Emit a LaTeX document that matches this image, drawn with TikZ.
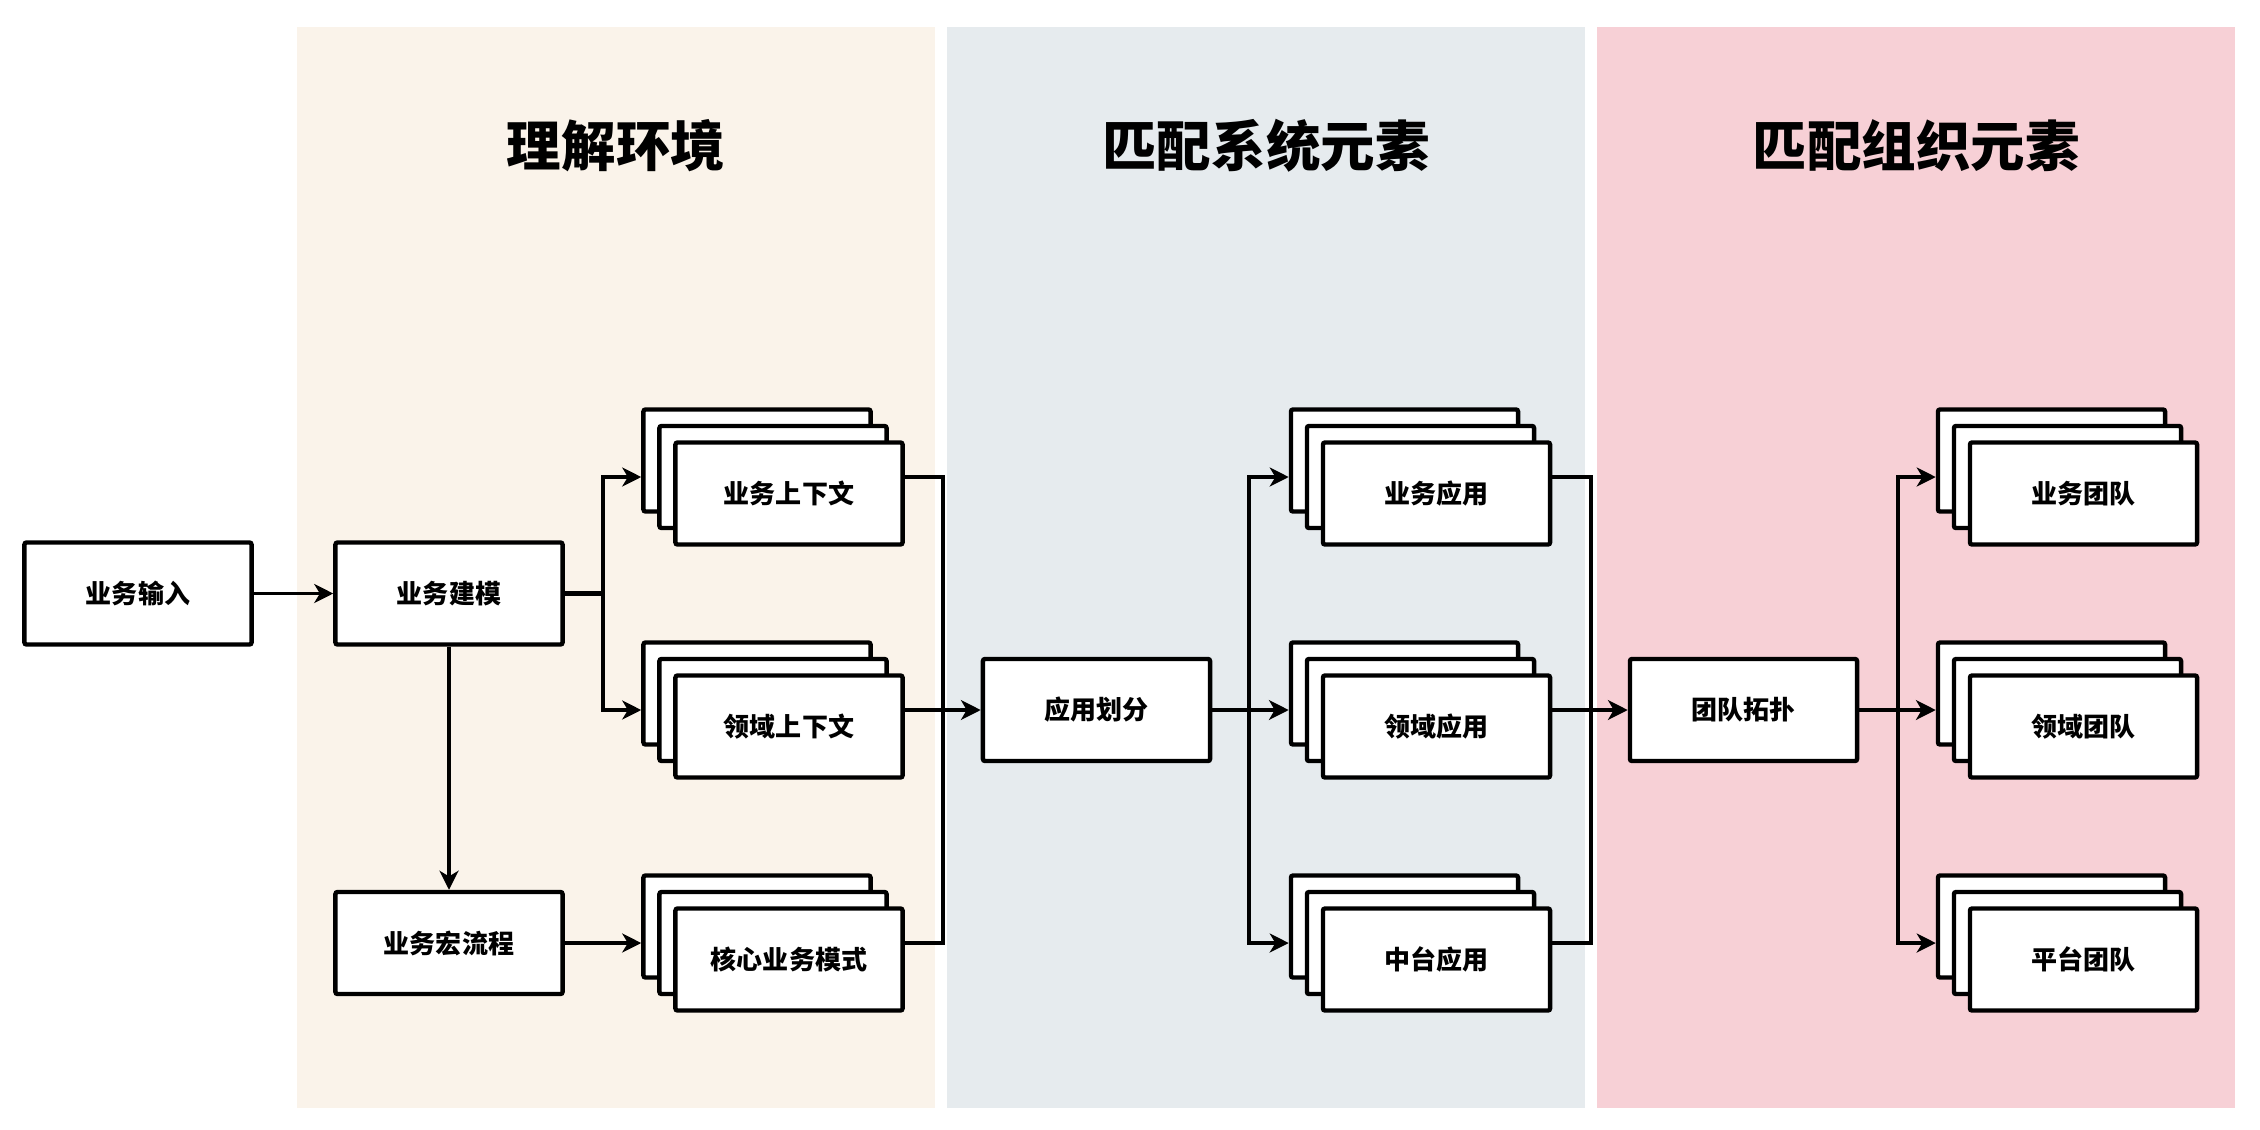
\documentclass[tikz,border=0pt]{standalone}
\usepackage{fontspec}
\setmainfont{Noto Sans CJK SC}
\usetikzlibrary{arrows.meta}
\definecolor{panelA}{RGB}{250,243,234}
\definecolor{panelB}{RGB}{230,235,238}
\definecolor{panelC}{RGB}{247,208,214}
\tikzset{
  box/.style={draw=black, line width=1.25pt, fill=white, minimum width=2.27cm,
    minimum height=1.02cm, rounded corners=0.6pt, inner sep=0pt,
    font=\bfseries\fontsize{7.4pt}{9pt}\selectfont},
  wire/.style={line width=1pt},
  heavywire/.style={line width=1.4pt},
  conn/.style={line width=1pt, -{Stealth[length=5.4pt,width=5.4pt,inset=1.6pt]}},
  heavyconn/.style={line width=1.4pt, -{Stealth[length=5.6pt,width=5.6pt,inset=1.6pt]}},
  title/.style={font=\bfseries\fontsize{15.5pt}{18pt}\selectfont},
}
\begin{document}
\begin{tikzpicture}[x=0.01cm,y=-0.01cm]
\useasboundingbox (0,0) rectangle (2260,1130);
\fill[white] (0,0) rectangle (2260,1130);
% panels
\fill[panelA] (297,27) rectangle (935,1108);
\fill[panelB] (947,27) rectangle (1585,1108);
\fill[panelC] (1597,27) rectangle (2235,1108);
\node[title] (t1) at (616,146) {理解环境};
\node[title] (t2) at (1266,146) {匹配系统元素};
\node[title] (t3) at (1916,146) {匹配组织元素};
% single boxes
\node[box] (yr) at (138,593.5) {业务输入};
\node[box] (jm) at (449,593.5) {业务建模};
\node[box] (hl) at (449,943) {业务宏流程};
\node[box] (yh) at (1096.5,710) {应用划分};
\node[box] (td) at (1743.5,710) {团队拓扑};
% column 1 stacks
\node[box] (s1b) at (757,460.5) {};
\node[box] (s1m) at (773,477) {};
\node[box] (s1) at (789,493.5) {业务上下文};
\node[box] (s2b) at (757,693.5) {};
\node[box] (s2m) at (773,710) {};
\node[box] (s2) at (789,726.5) {领域上下文};
\node[box] (s3b) at (757,926.5) {};
\node[box] (s3m) at (773,943) {};
\node[box] (s3) at (789,959.5) {核心业务模式};
% column 2 stacks
\node[box] (a1b) at (1404.5,460.5) {};
\node[box] (a1m) at (1420.5,477) {};
\node[box] (a1) at (1436.5,493.5) {业务应用};
\node[box] (a2b) at (1404.5,693.5) {};
\node[box] (a2m) at (1420.5,710) {};
\node[box] (a2) at (1436.5,726.5) {领域应用};
\node[box] (a3b) at (1404.5,926.5) {};
\node[box] (a3m) at (1420.5,943) {};
\node[box] (a3) at (1436.5,959.5) {中台应用};
% column 3 stacks
\node[box] (g1b) at (2051.5,460.5) {};
\node[box] (g1m) at (2067.5,477) {};
\node[box] (g1) at (2083.5,493.5) {业务团队};
\node[box] (g2b) at (2051.5,693.5) {};
\node[box] (g2m) at (2067.5,710) {};
\node[box] (g2) at (2083.5,726.5) {领域团队};
\node[box] (g3b) at (2051.5,926.5) {};
\node[box] (g3m) at (2067.5,943) {};
\node[box] (g3) at (2083.5,959.5) {平台团队};
% junction points
\coordinate (b1) at (603,593.5);
\coordinate (j1) at (943,710);
\coordinate (b2) at (1249,710);
\coordinate (j2) at (1591,710);
\coordinate (b3) at (1898,710);
% connectors
\draw[conn] (yr.east) -- (jm.west);
\draw[conn] (jm.south) -- (hl.north);
\draw[heavywire] (jm.east) -- (b1);
\draw[conn] (b1) |- (s1b.west |- s1m.center);
\draw[conn] (b1) |- (s2b.west |- s2m.center);
\draw[conn] (hl.east) -- (s3b.west |- s3m.center);
\draw[wire] (s1.east |- s1m.center) -| (j1);
\draw[wire] (s3.east |- s3m.center) -| (j1);
\draw[heavyconn] (s2.east |- s2m.center) -- (yh.west);
\draw[heavywire] (yh.east) -- (b2);
\draw[conn] (b2) |- (a1b.west |- a1m.center);
\draw[heavyconn] (b2) -- (a2b.west |- a2m.center);
\draw[conn] (b2) |- (a3b.west |- a3m.center);
\draw[wire] (a1.east |- a1m.center) -| (j2);
\draw[wire] (a3.east |- a3m.center) -| (j2);
\draw[heavyconn] (a2.east |- a2m.center) -- (td.west);
\draw[heavywire] (td.east) -- (b3);
\draw[conn] (b3) |- (g1b.west |- g1m.center);
\draw[heavyconn] (b3) -- (g2b.west |- g2m.center);
\draw[conn] (b3) |- (g3b.west |- g3m.center);
\end{tikzpicture}
\end{document}
